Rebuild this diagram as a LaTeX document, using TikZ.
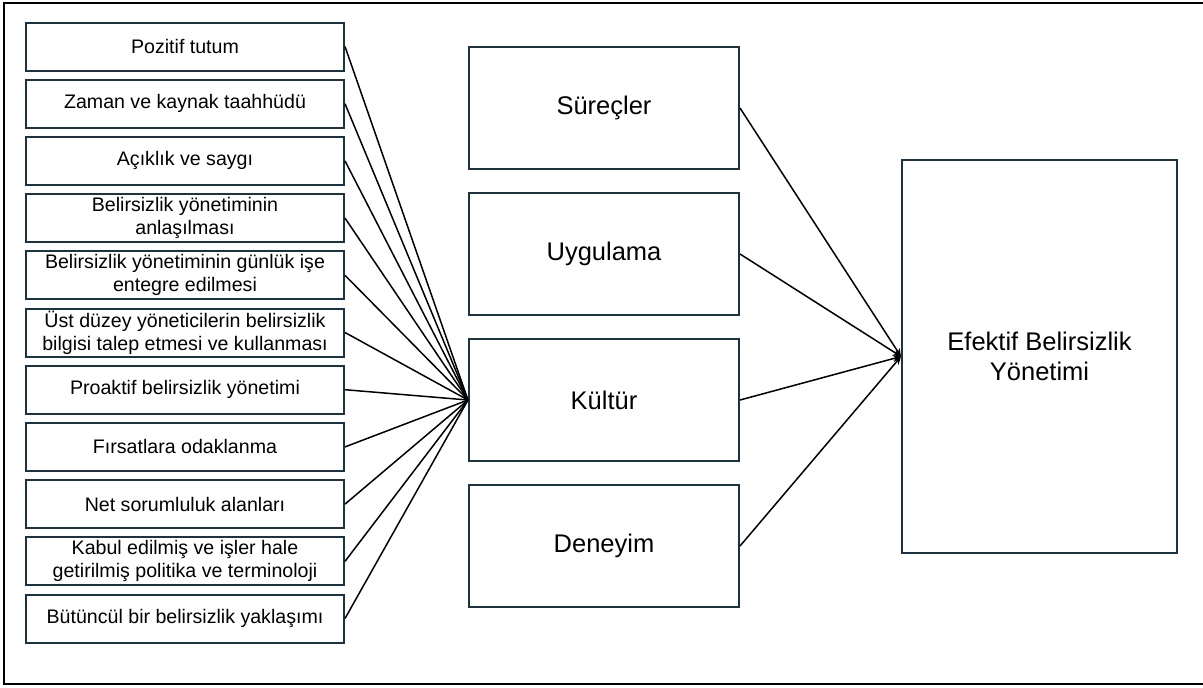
\documentclass[tikz,border=0pt]{standalone}
\usepackage{fontspec}
\setmainfont{Liberation Sans}
\usepackage{xcolor}
\usetikzlibrary{arrows.meta,positioning}
\definecolor{boxline}{RGB}{28,52,66}

\begin{document}
\begin{tikzpicture}[x=0.5pt, y=-0.5pt, small/.style={draw=boxline, line width=1pt, align=center, minimum width=159pt, minimum height=24pt, inner sep=0pt, font=\fontsize{9.8}{11.5}\selectfont}, big/.style={draw=boxline, line width=1pt, align=center, minimum width=135pt, minimum height=61pt, inner sep=0pt, font=\fontsize{12.75}{15.3}\selectfont}, link/.style={line width=0.75pt}]
\useasboundingbox (0,0) rectangle (1203,687);
\draw[line width=1pt] (1203,3) -- (4,3) -- (4,684) -- (1203,684);
% left column
\node[small] (pos) at (185,46.5) {Pozitif tutum};
\node[small, below=3.6pt of pos] (zam) {Zaman ve kaynak taahhüdü};
\node[small, below=3.6pt of zam] (aci) {Açıklık ve saygı};
\node[small, below=3.6pt of aci] (anl) {Belirsizlik yönetiminin\\anlaşılması};
\node[small, below=3.6pt of anl] (gun) {Belirsizlik yönetiminin günlük işe\\entegre edilmesi};
\node[small, below=3.6pt of gun] (ust) {Üst düzey yöneticilerin belirsizlik\\bilgisi talep etmesi ve kullanması};
\node[small, below=3.6pt of ust] (pro) {Proaktif belirsizlik yönetimi};
\node[small, below=3.6pt of pro] (fir) {Fırsatlara odaklanma};
\node[small, below=3.6pt of fir] (net) {Net sorumluluk alanları};
\node[small, below=3.6pt of net] (kab) {Kabul edilmiş ve işler hale\\getirilmiş politika ve terminoloji};
\node[small, below=3.6pt of kab] (but) {Bütüncül bir belirsizlik yaklaşımı};
% middle column
\node[big] (sur) at (604,108) {Süreçler};
\node[big, below=11pt of sur] (uyg) {Uygulama};
\node[big, below=11pt of uyg] (kul) {Kültür};
\node[big, below=11pt of kul] (den) {Deneyim};
% result
\node[draw=boxline, line width=1pt, minimum width=137.5pt, minimum height=196.5pt, align=center, font=\fontsize{12.75}{15.3}\selectfont] (eff) at (1039.5,356.5) {Efektif Belirsizlik\\Yönetimi};
\draw[link] (pos.east) -- (kul.west);
\draw[link] (zam.east) -- (kul.west);
\draw[link] (aci.east) -- (kul.west);
\draw[link] (anl.east) -- (kul.west);
\draw[link] (gun.east) -- (kul.west);
\draw[link] (ust.east) -- (kul.west);
\draw[link] (pro.east) -- (kul.west);
\draw[link] (fir.east) -- (kul.west);
\draw[link] (net.east) -- (kul.west);
\draw[link] (kab.east) -- (kul.west);
\draw[link] (but.east) -- (kul.west);
\draw[link, -{Stealth[length=4pt, width=3.5pt]}] (sur.east) -- (eff.west);
\draw[link, -{Stealth[length=4pt, width=3.5pt]}] (uyg.east) -- (eff.west);
\draw[link, -{Stealth[length=4pt, width=3.5pt]}] (kul.east) -- (eff.west);
\draw[link, -{Stealth[length=4pt, width=3.5pt]}] (den.east) -- (eff.west);
\end{tikzpicture}
\end{document}
